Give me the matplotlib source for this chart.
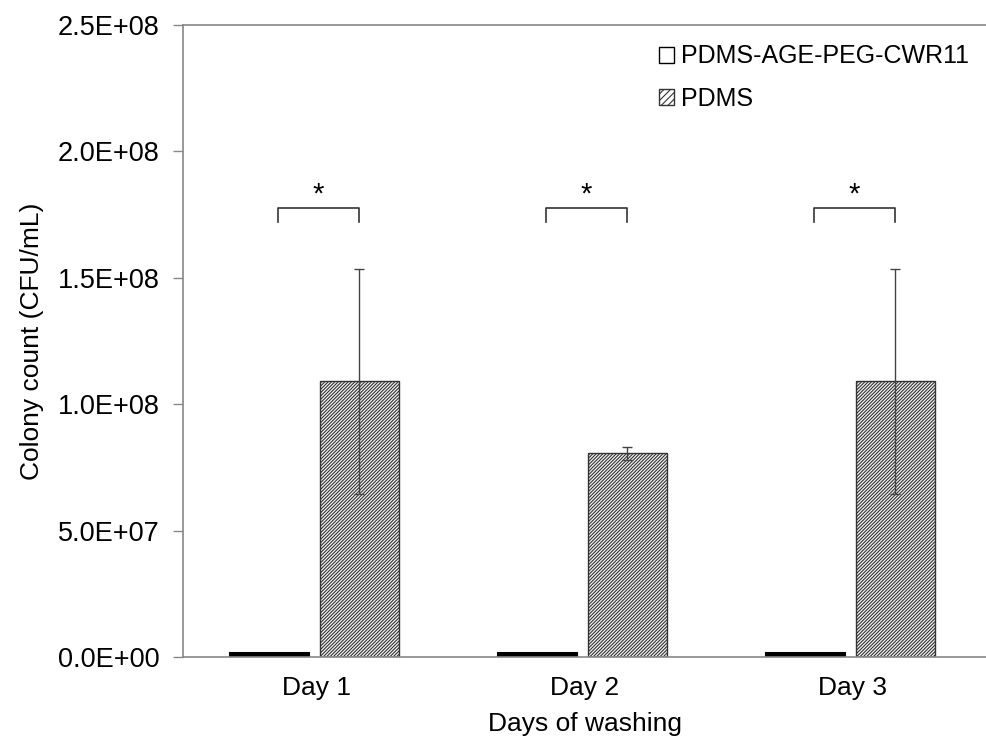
import matplotlib
matplotlib.use("Agg")
import matplotlib.pyplot as plt
import numpy as np
from matplotlib.patches import Patch

plt.rcParams['font.family'] = ['Liberation Sans', 'DejaVu Sans']
plt.rcParams['hatch.linewidth'] = 0.8

categories = ["Day 1", "Day 2", "Day 3"]
series_names = ["PDMS-AGE-PEG-CWR11", "PDMS"]
coated = [1.5e6, 1.5e6, 1.5e6]
pdms = [1.09e8, 0.805e8, 1.09e8]
pdms_err = [0.445e8, 0.025e8, 0.445e8]
bracket_level = [1.775e8, 1.775e8, 1.775e8]
sig_labels = ["*", "*", "*"]
yticks = [0, 0.5e8, 1.0e8, 1.5e8, 2.0e8, 2.5e8]
ytick_labels = ["0.0E+00", "5.0E+07", "1.0E+08", "1.5E+08", "2.0E+08", "2.5E+08"]

fig = plt.figure(figsize=(9.87, 7.42), dpi=100)
ax = fig.add_axes([0.1854, 0.1146, 0.8146, 0.8517])

HATCH = '//////////'
x = np.arange(len(categories))
w = 0.295
ax.bar(x - 0.177, coated, width=w, facecolor='black', edgecolor='black', linewidth=1.5)
ax.bar(x + 0.157, pdms, width=w, facecolor='#f4f4f4', edgecolor='#333333', linewidth=1.0,
       hatch=HATCH)
ax.errorbar(x + 0.157, pdms, yerr=pdms_err, fmt='none', ecolor='#444444',
            elinewidth=1.0, capsize=3.5, capthick=1.0)

# significance brackets
for xi, lvl, s in zip(x, bracket_level, sig_labels):
    xl, xr = xi - 0.146, xi + 0.157
    drop = 0.055e8
    ax.plot([xl, xl, xr, xr], [lvl - drop, lvl, lvl, lvl - drop], color='#333333', lw=1.2)
    ax.text((xl + xr) / 2, lvl + 0.0e8, s, ha='center', va='bottom', fontsize=21)

ax.set_xlim(-0.5, 2.5)
ax.set_ylim(0, 2.5e8)
ax.set_yticks(yticks)
ax.set_yticklabels(ytick_labels, fontsize=19.5)
ax.set_xticks(x)
ax.set_xticklabels(categories, fontsize=19)
ax.tick_params(axis='x', length=0, pad=14)
ax.tick_params(axis='y', direction='out', length=7, width=1, color='#888888', pad=10)

for side in ['left', 'top', 'bottom']:
    ax.spines[side].set_color('#888888')
    ax.spines[side].set_linewidth(1.2)
ax.spines['right'].set_visible(False)

ax.set_ylabel("Colony count (CFU/mL)", fontsize=19, labelpad=10)
ax.set_xlabel("Days of washing", fontsize=19, labelpad=8)

handles = [Patch(facecolor='white', edgecolor='black', linewidth=1.0),
           Patch(facecolor='white', edgecolor='#333333', linewidth=1.0, hatch='/////')]
leg = ax.legend(handles, series_names, loc='upper right', bbox_to_anchor=(1.0, 0.997),
                frameon=False, fontsize=18, handlelength=0.6, handleheight=0.6,
                handletextpad=0.3, labelspacing=0.75, borderaxespad=0.3)

fig.savefig("out.png", dpi=100)
